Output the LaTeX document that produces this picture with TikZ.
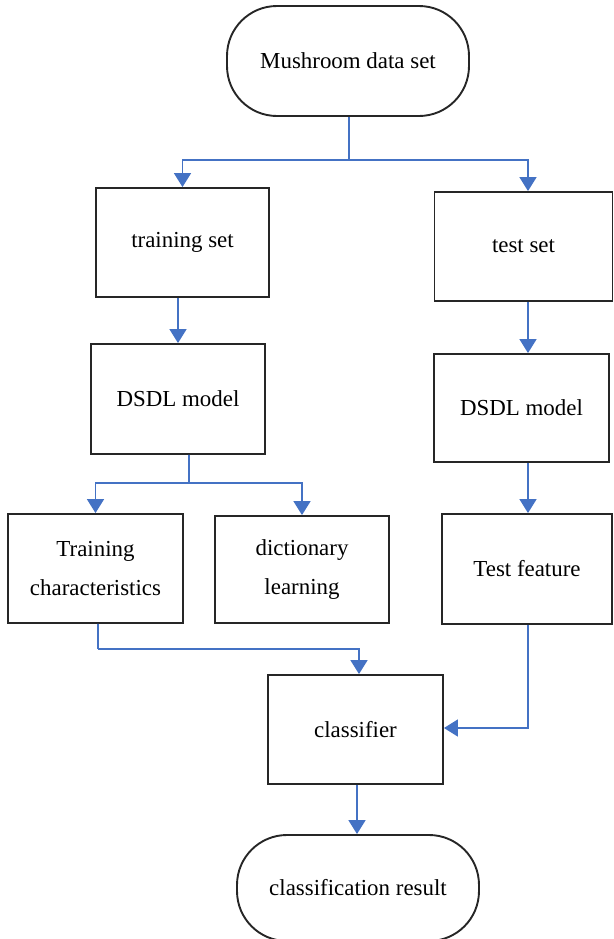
\documentclass[tikz,border=0pt]{standalone}
\usepackage{fontspec}
\setmainfont{Liberation Serif}
\usetikzlibrary{arrows.meta,calc}
\definecolor{lc}{HTML}{4472C4}
\begin{document}
\begin{tikzpicture}[x=1bp,y=-1bp,
  boxbase/.style={draw=black!85,line width=1.9bp,inner sep=0pt,align=center,
    font=\fontsize{23}{39}\selectfont},
  procbox/.style={boxbase,rectangle},
  termbox/.style={boxbase,rectangle,rounded corners=50bp},
  arr/.style={draw=lc,line width=1.7bp,-{Triangle[width=17bp,length=14bp]}},
  ln/.style={draw=lc,line width=1.7bp}]
\useasboundingbox (0,0) rectangle (614,939);
\node[termbox,minimum width=242bp,minimum height=110bp] (top) at (348,61) {Mushroom data set};
\node[procbox,minimum width=173bp,minimum height=109bp] (train) at (182.5,242.5) {training set};
\node[procbox,minimum width=178bp,minimum height=109bp] (test) at (523.5,246.5) {test set};
\node[procbox,minimum width=174bp,minimum height=110bp] (dsdlL) at (178,399) {DSDL model};
\node[procbox,minimum width=175bp,minimum height=108bp] (dsdlR) at (521.5,408) {DSDL model};
\node[procbox,minimum width=175bp,minimum height=109bp] (trainc) at (95.5,568.5) {Training\\characteristics};
\node[procbox,minimum width=174bp,minimum height=107bp] (dict) at (302,569.5) {dictionary\\learning};
\node[procbox,minimum width=170bp,minimum height=110bp] (testf) at (527,569) {Test feature};
\node[procbox,minimum width=175bp,minimum height=109bp] (cls) at (355.5,729.5) {classifier};
\node[termbox,minimum width=242bp,minimum height=106bp] (res) at (358,888) {classification result};
% column guides
\coordinate (rx) at (528,0);
\coordinate (mx) at (357,0);
% top split
\coordinate (j1) at ($(top.south)+(1,43)$);
\draw[ln] ([xshift=1bp]top.south) -- (j1);
\draw[arr] (j1) -| (train.north);
\draw[arr] (j1) -| (test.north -| rx);
% columns
\draw[arr] (train.south -| dsdlL.north) -- (dsdlL.north);
\draw[arr] (test.south -| rx) -- (dsdlR.north -| rx);
\draw[arr] (dsdlR.south -| rx) -- (testf.north -| rx);
% DSDL split
\coordinate (j2) at ($(dsdlL.south)+(11,28)$);
\draw[ln] ([xshift=11bp]dsdlL.south) -- (j2);
\draw[arr] (j2) -| (trainc.north);
\draw[arr] (j2) -| (dict.north);
% to classifier
\coordinate (j3) at ($(trainc.south)+(2.5,25)$);
\draw[ln] ([xshift=2.5bp]trainc.south) -- (j3);
\draw[arr] (j3) -| ([xshift=3.5bp]cls.north);
\draw[arr] (testf.south -| rx) |- ([yshift=1.5bp]cls.east);
\draw[arr] (cls.south -| mx) -- (res.north -| mx);
\end{tikzpicture}
\end{document}
